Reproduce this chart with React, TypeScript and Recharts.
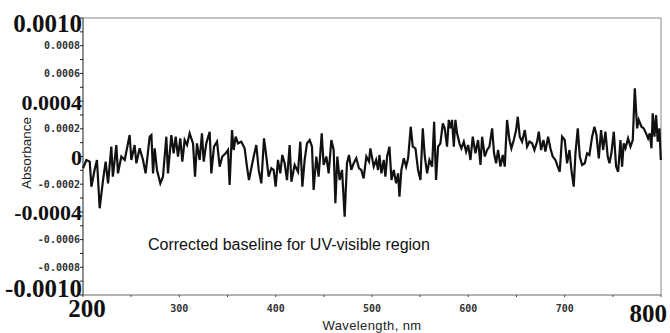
import { LineChart, Line, XAxis, YAxis, ReferenceLine, Label } from 'recharts'

// absorbance, in units of 1e-4 AU: [wavelength nm, absorbance]
const spectrum200: [number, number][] = [
  [200, -0.85], [203.5, -0.25], [207, -0.37], [208.7, -2.18], [212, -0.97], [214.5, -0.25], [217.3, -3.74],
  [220.8, -1.7], [223.5, -0.37], [226, -1.94], [229.4, 0.71], [231, -1.46], [234.6, 0.83], [236.3, -1.22],
  [239.8, 0], [243.3, -0.25], [248.4, 1.55], [250.2, -0.25], [253.6, 0.83], [255.4, -0.49], [258.8, 0.59],
  [262.3, -0.25], [265, -1.22], [269.2, 1.43], [271, 1.55], [272.7, -1.22], [274.4, 0.59], [276.8, -0.97],
  [280.3, -1.94], [283, -1.46], [286.5, 1.43], [288.2, -1.22], [291.7, 1.55], [294.1, 0.23], [296.2, 1.43],
  [298.6, 0], [301, 1.31], [303.1, -0.37], [305.5, 1.19], [308, 0.83], [310.7, 1.67], [314.2, 0.95],
  [316.3, -1.46], [318.3, 0.95], [321.1, -0.25], [323.5, 1.67], [325.3, -0.37], [328, 0.95], [331.5, 1.79],
  [333.2, -1.22], [336, 0.71], [339.1, 1.07], [341.9, -0.73], [344.6, 0], [348.1, 0.23],
]

const spectrum350: [number, number][] = [
  [350.5, 0.47], [352.2, -2.06], [354.7, 1.91], [356.4, 0.47], [358.5, 1.43], [360.9, 0.95], [364.4, 1.07],
  [367.8, 0.59], [370.2, -0.73], [372.3, -1.7], [374.7, -0.85], [377.2, 0], [379.9, 0.83], [382.4, -0.97],
  [385.1, -1.94], [387.9, 1.31], [390.3, 0], [392.7, -1.46], [395.5, -0.85], [397.9, -0.97], [400, -2.18],
  [402.4, -0.25], [404.8, -1.22], [406.9, 0.11], [409.3, -0.49], [411.8, -1.7], [414.5, 0.83], [416.3, -1.82],
  [419.7, -0.61], [423.2, -1.1], [425.6, 1.07], [427.7, -2.18], [430.1, -0.25], [432.5, 0.95], [435.3, 1.19],
  [437.7, 0.71], [439.4, -2.42], [442.2, 0], [444.6, -1.46], [447.8, 1.67], [449.8, -0.61], [452.6, 0],
  [455, -1.22], [457.8, 1.19], [460.2, 0.47], [462, -3.38], [464, 0], [466.4, -1.7], [468.9, -0.97],
  [471.6, -4.34], [474, -0.49], [476.1, 0.11], [478.5, -0.97], [481, -0.49], [483.7, -0.13], [486.5, -0.85],
  [488.9, -0.97], [491.3, -1.58], [494.1, 0], [496.9, -0.37], [498.3, 0.59],
]

const spectrum500: [number, number][] = [
  [501.8, -0.73], [504.3, -0.25], [506.3, -0.97], [507.7, 0.11], [509.8, -1.22], [512.2, -0.25], [513.9, -1.46],
  [515.7, 0], [518.1, 0.71], [520.2, -1.7], [522.6, -0.97], [525, -1.94], [527.1, -1.22], [528.5, -2.9],
  [530.5, -0.97], [533, -0.13], [535.4, -0.73], [537.5, -0.13], [540.2, 2.15], [542.3, 0.71], [545.1, 0.59],
  [547.8, -0.97], [550.3, -1.7], [552.7, 2.03], [554.8, 0], [557.2, -1.22], [559.6, -0.25], [562.4, -0.73],
  [564.5, 2.51], [566.5, -1.7], [568.6, 0.71], [571, 0.95], [573.5, 2.39], [575.5, 2.03], [577.9, 0.71],
  [579.7, 2.64], [581.4, 2.03], [583.1, 2.64], [584.9, 0.71], [586.6, 2.64], [588.3, 1.67], [590.8, 0.95],
  [592.8, 0.59], [595.3, 1.07], [597.7, 0.35], [599.8, 0.83], [602.2, -0.25], [604.6, 1.43], [607.4, 0.23],
  [610.1, 1.19], [612.6, -0.61], [614.3, 1.43], [617.1, 0], [619.5, 0.47], [621.9, 0.71], [624.7, 2.03],
  [626.7, 0.23], [628.8, -0.49], [630.9, 0.47], [633.3, -0.73], [635.7, 0.11], [637.8, -0.73], [640.2, 2.64],
  [642.7, 1.19], [644.7, 0.59], [647.2, 1.19], [649.6, 1.91],
]

const spectrum650: [number, number][] = [
  [651.3, 2.87], [653.4, 1.43], [655.8, 1.07], [658.6, 1.91], [661, 0.71], [663.4, 1.07], [666.2, 0.95],
  [668.6, 0.47], [671.4, 1.07], [673.1, 1.79], [675.5, 0.47], [678, 1.19], [680, 0.35], [682.8, 1.43],
  [685.2, 0.59], [687.6, 0], [690.4, -0.25], [692.8, -0.73], [694.9, -1.1], [697.3, 1.43], [700.1, 1.19],
  [702.5, -0.49], [705, 0.47], [707, -0.97], [709.4, -2.18], [711.2, 0.23], [713.6, 2.03], [715.7, 0],
  [718.1, -0.61], [720.9, -0.49], [723.3, 0.23], [725.7, 0.11], [728.5, 1.43], [730.9, 2.15], [733, 1.55],
  [735.4, -0.13], [737.8, 1.91], [739.9, 0.47], [742.3, 1.79], [744.7, 0], [746.5, -0.49], [748.5, 0.23],
  [751, 1.79], [753.4, -0.73], [755.5, -1.1], [757.9, 1.19], [759.6, -0.73], [761.3, 0.95], [763.1, 0.59],
  [765.8, 1.31], [768.3, 0.71], [770.7, 1.19], [772.8, 4.92], [775.2, 2.03], [776.9, 2.64], [779.7, 2.15],
  [782.1, 2.03], [784.5, 1.67], [786.6, 1.31], [788.3, 1.67], [790.1, 0.59], [791.4, 3.12], [793.2, 1.43],
  [794.9, 2.99], [796.6, 1.07], [798.4, 2.03], [799.8, -0.25],
]

const xTicks = [200, 250, 300, 350, 400, 450, 500, 550, 600, 650, 700, 750, 800]
const xLabels: Record<number, string> = {
  200: '200', 300: '300', 400: '400', 500: '500', 600: '600', 700: '700', 800: '800',
}
const bigX = [200, 800]

const yTicks = [
  -0.001, -0.0009, -0.0008, -0.0007, -0.0006, -0.0005, -0.0004, -0.0003, -0.0002, -0.0001, 0,
  0.0001, 0.0002, 0.0003, 0.0004, 0.0005, 0.0006, 0.0007, 0.0008, 0.0009, 0.001,
]
// keyed by value * 1e4
const yLabels: Record<number, string> = {
  10: '0.0010', 8: '0.0008', 6: '0.0006', 4: '0.0004', 2: '0.0002', 0: '0',
  [-2]: '-0.0002', [-4]: '-0.0004', [-6]: '-0.0006', [-8]: '-0.0008', [-10]: '-0.0010',
}
const bigY = [10, 4, 0, -4, -10]

const data = [...spectrum200, ...spectrum350, ...spectrum500, ...spectrum650].map(([wl, a]) => ({
  wl,
  abs: a * 1e-4,
}))

const serif = '"Liberation Serif", "DejaVu Serif", serif'
const mono = '"DejaVu Sans Mono", "Liberation Mono", monospace'
const sans = '"Liberation Sans", Arial, sans-serif'

function YTick(props: any) {
  const { x, y, payload } = props
  const k = Math.round(payload.value * 1e4)
  const text = yLabels[k]
  if (text == null) return <g />
  if (bigY.includes(k)) {
    const edge = k === 10 || k === -10
    const dy = k === 10 ? 5 : k === -10 ? -7 : 1
    return (
      <text x={x + 4} y={y + dy} textAnchor="end" dominantBaseline="central"
        fontFamily={serif} fontWeight="bold" fontSize={edge ? 25 : 22} fill="#111">
        {text}
      </text>
    )
  }
  return (
    <text x={x + 2} y={y} textAnchor="end" dominantBaseline="central"
      fontFamily={mono} fontWeight="bold" fontSize={10} fill="#333">
      {text}
    </text>
  )
}

function XTick(props: any) {
  const { x, y, payload } = props
  const v = Math.round(payload.value)
  const text = xLabels[v]
  if (text == null) return <g />
  if (bigX.includes(v)) {
    return (
      <text x={v === 800 ? x + 6 : x + 4} y={v === 800 ? y + 14 : y + 9}
        textAnchor={v === 800 ? 'end' : 'middle'} dominantBaseline="central"
        fontFamily={serif} fontWeight="bold" fontSize={25} fill="#111">
        {text}
      </text>
    )
  }
  return (
    <text x={x} y={y + 9} textAnchor="middle" dominantBaseline="central"
      fontFamily={mono} fontWeight="bold" fontSize={10} fill="#333">
      {text}
    </text>
  )
}

export default function App() {
  return (
    <div style={{ position: 'absolute', left: 0, top: 0, width: 670, height: 333, background: '#fff' }}>
      <LineChart width={670} height={333} data={data} margin={{ top: 18, right: 9, left: 0, bottom: 0 }}>
        <XAxis
          dataKey="wl"
          type="number"
          domain={[200, 800]}
          ticks={xTicks}
          interval={0}
          height={38}
          tick={<XTick />}
          tickSize={2}
          axisLine={{ stroke: '#666' }}
          tickLine={{ stroke: '#444' }}
        >
          <Label
            content={(p: any) => (
              <text x={p.viewBox.x + 289} y={325} textAnchor="middle" dominantBaseline="central"
                fontFamily={sans} fontSize={13} fill="#222" letterSpacing={0.4}>
                Wavelength, nm
              </text>
            )}
          />
        </XAxis>
        <YAxis
          type="number"
          domain={[-0.001, 0.001]}
          ticks={yTicks}
          interval={0}
          width={83}
          tick={<YTick />}
          tickSize={3}
          axisLine={{ stroke: '#222' }}
          tickLine={{ stroke: '#222' }}
        >
          <Label
            content={() => (
              <text x={26} y={153} textAnchor="middle" dominantBaseline="central"
                transform="rotate(-90 26 153)" fontFamily={sans} fontSize={13.5} fill="#222">
                Absorbance
              </text>
            )}
          />
        </YAxis>
        <ReferenceLine y={0.001} stroke="#888" />
        <ReferenceLine x={800} stroke="#888" />
        <Line
          type="linear"
          dataKey="abs"
          stroke="#111"
          strokeWidth={2.2}
          dot={false}
          isAnimationActive={false}
        />
      </LineChart>
      <div
        style={{
          position: 'absolute', left: 148, top: 235, fontFamily: sans, fontSize: 16,
          color: '#111', whiteSpace: 'nowrap', lineHeight: '20px',
        }}
      >
        Corrected baseline for UV-visible region
      </div>
    </div>
  )
}
